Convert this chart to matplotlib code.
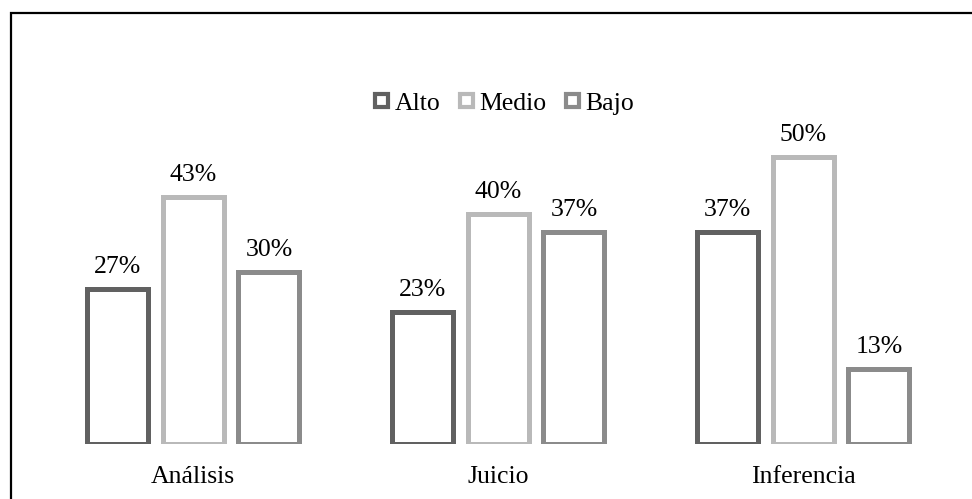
import matplotlib.pyplot as plt
import numpy as np
from matplotlib.patches import Patch, Rectangle

plt.rcParams["font.family"] = ["Liberation Serif", "DejaVu Serif"]

categories = ["Análisis", "Juicio", "Inferencia"]
series = ["Alto", "Medio", "Bajo"]
alto = [27, 23, 37]
medio = [43, 40, 50]
bajo = [30, 37, 13]
colors = ["#616161", "#b9b9b9", "#8b8b8b"]

W, H = 972, 499
FS = 18.5
fig = plt.figure(figsize=(W / 100, H / 100), dpi=100)

# frame around the chart area (runs off the right/bottom edges)
fig.add_artist(Rectangle((11 / W, -0.1), 1.2, 1.1 - 13 / H, transform=fig.transFigure,
                         fill=False, edgecolor="black", lw=1.6))

ax = fig.add_axes([40.5 / W, 55 / H, 915 / W, 344.4 / H])
ax.set_xlim(-0.5, 2.5)
ax.set_ylim(0, 60)

x = np.arange(len(categories))
step = 0.249
width = 0.2
for i, (name, vals) in enumerate(zip(series, [alto, medio, bajo])):
    pos = x + (i - 1) * step
    bars = ax.bar(pos, vals, width, facecolor="white", edgecolor=colors[i], lw=3.6, label=name)
    for b, v in zip(bars, vals):
        ax.annotate(f"{v}%", (b.get_x() + b.get_width() / 2, v), xytext=(0, 11.5),
                    textcoords="offset points", ha="center", va="baseline", fontsize=FS)

ax.set_xticks([])
for xi, cat in zip(x, categories):
    ax.annotate(cat, (xi, 0), xytext=(0, -28), textcoords="offset points",
                ha="center", va="baseline", fontsize=FS)
ax.set_yticks([])
for s in ax.spines.values():
    s.set_visible(False)

handles = [Patch(facecolor="white", edgecolor=c, lw=3, label=n) for c, n in zip(colors, series)]
fig.legend(handles=handles, loc="center", bbox_to_anchor=(504.5 / W, 1 - 104 / H), ncol=3,
           frameon=False, fontsize=FS, handlelength=0.52, handleheight=0.38,
           handletextpad=0.25, columnspacing=0.75, borderpad=0, borderaxespad=0)

fig.savefig("out.png", dpi=100)
